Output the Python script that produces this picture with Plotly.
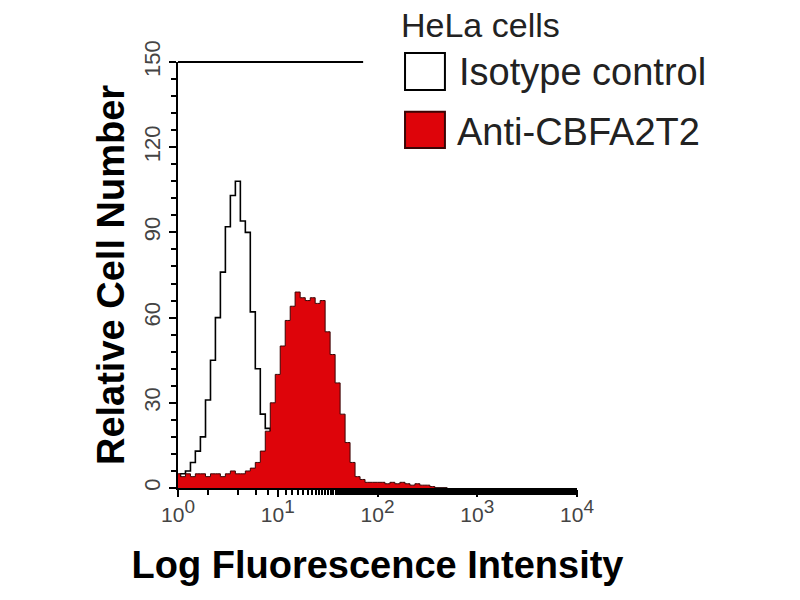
import plotly.graph_objects as go

# Fluorescence intensity bins (channel centres, log-spaced)
intensity = [1.00, 1.12, 1.26, 1.41, 1.58, 1.78, 2.00, 2.24, 2.51, 2.82,
             3.16, 3.55, 3.98, 4.47, 5.01, 5.62, 6.31, 7.08, 7.94, 8.91,
             10.0, 11.2, 12.6, 14.1, 15.8, 17.8, 20.0, 22.4, 25.1, 28.2,
             31.6, 35.5, 39.8, 44.7, 50.1, 56.2, 63.1, 70.8, 79.4, 89.1,
             100, 112, 126, 141, 158, 178, 200, 224, 251, 282,
             316, 355, 398, 447, 501]

isotype_counts = [4, 5, 6, 9, 13, 18, 31, 45, 60, 76,
                  92, 103, 108, 94, 90, 62, 42, 26, 21, 15,
                  9, 5, 2, 1, 0, 0, 0, 0, 0, 0,
                  0, 0, 0, 0, 0, 0, 0, 0, 0, 0,
                  0, 0, 0, 0, 0, 0, 0, 0, 0, 0,
                  0, 0, 0, 0, 0]

anti_counts = [5, 4, 5, 4, 5, 5, 4, 5, 5, 4,
               5, 6, 5, 5, 6, 7, 9, 13, 20, 30,
               40, 50, 59, 64, 69, 67, 66, 67, 65, 66,
               55, 47, 37, 26, 16, 9, 4, 3, 2, 2,
               2, 2, 1.5, 2, 1.5, 2, 1.5, 1, 1.5, 1,
               1, 0.5, 0, 0, 0]

x_tickvals = [1, 10, 100, 1000, 10000]
x_exponents = ["0", "1", "2", "3", "4"]
y_tickvals = [0, 30, 60, 90, 120, 150]

legend_title = "HeLa cells"
series_names = ["Isotype control", "Anti-CBFA2T2"]

FONT = "Liberation Sans, Arial, sans-serif"
RED = "rgb(222,4,10)"

x_ticktext = ['10<sup><span style="font-size:19px">%s</span></sup>' % e for e in x_exponents]

fig = go.Figure()
fig.add_trace(go.Scatter(x=intensity, y=isotype_counts, mode="lines",
                         line=dict(color="black", width=1.6, shape="hvh"),
                         name=series_names[0], showlegend=False))
fig.add_trace(go.Scatter(x=intensity, y=anti_counts, mode="lines", fill="tozeroy",
                         fillcolor=RED, line=dict(color="#3a0505", width=1, shape="hvh"),
                         name=series_names[1], showlegend=False))

# the page body adds an 8px offset, so margins are compensated
fig.update_layout(
    width=800, height=600,
    margin=dict(l=170, r=231, t=54, b=120, autoexpand=False),
    paper_bgcolor="white", plot_bgcolor="white",
    font=dict(family=FONT, color="black"),
    showlegend=False,
)
fig.update_xaxes(
    type="log", range=[0, 4], tickvals=x_tickvals, ticktext=x_ticktext, automargin=False,
    showline=True, linecolor="black", linewidth=2, showgrid=False, zeroline=False,
    ticks="outside", ticklen=7, tickwidth=2, tickcolor="black",
    minor=dict(ticks="outside", ticklen=5, tickwidth=1.5, tickcolor="black", showgrid=False),
    tickfont=dict(size=21, color="#444", family=FONT),
    title=dict(text="<b>Log Fluorescence Intensity</b>", font=dict(size=38, family=FONT), standoff=26),
)
fig.update_yaxes(
    range=[0, 150], tickvals=y_tickvals, tickangle=-90, automargin=False,
    showline=True, linecolor="black", linewidth=2, showgrid=False, zeroline=False,
    ticks="outside", ticklen=7, tickwidth=2, tickcolor="black",
    minor=dict(ticks="outside", ticklen=5, tickwidth=1.5, tickcolor="black", dtick=6, showgrid=False),
    tickfont=dict(size=22, color="#444", family=FONT),
    title=dict(text="<b>Relative Cell Number</b>", font=dict(size=38, family=FONT), standoff=4),
)

# partial top frame line
fig.add_shape(type="line", xref="paper", yref="paper", x0=0, x1=0.464, y0=1, y1=1,
              line=dict(color="black", width=2))

# manual legend
fig.add_annotation(text=legend_title, xref="paper", yref="paper", x=0.553, y=1.088,
                   xanchor="left", yanchor="middle", showarrow=False,
                   font=dict(size=34, color="#222", family=FONT))
fig.add_shape(type="rect", xref="paper", yref="paper", x0=0.569, x1=0.669, y0=0.934, y1=1.021,
              line=dict(color="black", width=2), fillcolor="white")
fig.add_shape(type="rect", xref="paper", yref="paper", x0=0.569, x1=0.669, y0=0.798, y1=0.883,
              line=dict(color="#3a0505", width=2), fillcolor=RED)
fig.add_annotation(text=series_names[0], xref="paper", yref="paper", x=0.700, y=0.977,
                   xanchor="left", yanchor="middle", showarrow=False,
                   font=dict(size=38, color="#222", family=FONT))
fig.add_annotation(text=series_names[1], xref="paper", yref="paper", x=0.695, y=0.836,
                   xanchor="left", yanchor="middle", showarrow=False,
                   font=dict(size=38, color="#222", family=FONT))

fig.write_html("out.html")
